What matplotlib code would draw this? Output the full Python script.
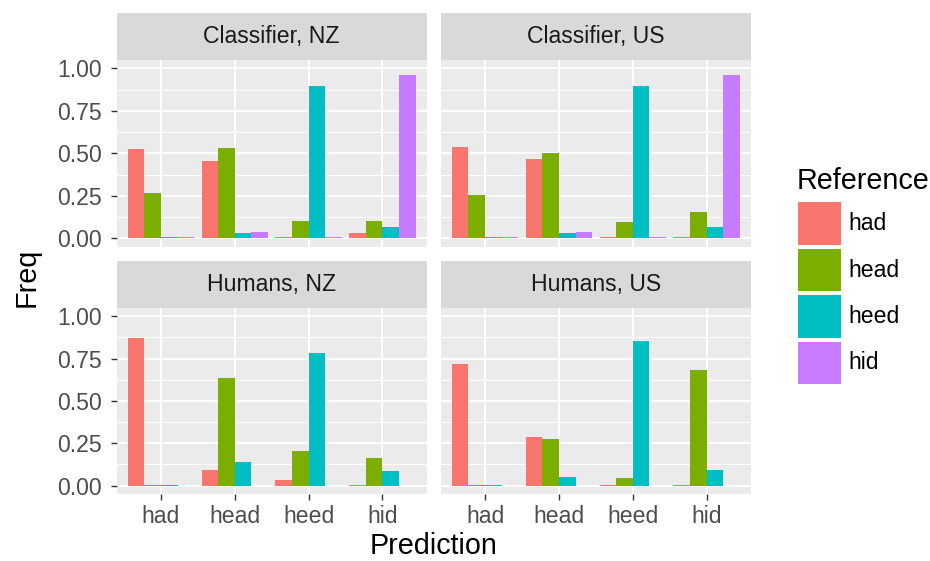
import numpy as np
import matplotlib
matplotlib.use("Agg")
import matplotlib.pyplot as plt
from matplotlib.patches import Rectangle

plt.rcParams['font.family'] = ['Liberation Sans', 'DejaVu Sans']

# Predicted vowel categories (x axis) and reference vowels (fill)
predictions = ["had", "head", "heed", "hid"]
references = ["had", "head", "heed", "hid"]
ref_colors = ["#F8766D", "#7CAE00", "#00BFC4", "#C77CFF"]

# Frequencies: keys = reference vowel, list entries = predicted vowel
classifier_nz = {
    "had":  [0.523, 0.453, 0.005, 0.028],
    "head": [0.264, 0.529, 0.104, 0.104],
    "heed": [0.005, 0.033, 0.895, 0.069],
    "hid":  [0.005, 0.039, 0.005, 0.960],
}
classifier_us = {
    "had":  [0.535, 0.464, 0.005, 0.005],
    "head": [0.252, 0.500, 0.098, 0.152],
    "heed": [0.005, 0.033, 0.895, 0.069],
    "hid":  [0.005, 0.039, 0.005, 0.960],
}
humans_nz = {
    "had":  [0.874, 0.094, 0.035, 0.005],
    "head": [0.005, 0.632, 0.201, 0.165],
    "heed": [0.005, 0.136, 0.780, 0.083],
    "hid":  [np.nan, np.nan, np.nan, np.nan],
}
humans_us = {
    "had":  [0.715, 0.289, 0.005, 0.005],
    "head": [0.005, 0.272, 0.047, 0.685],
    "heed": [0.005, 0.053, 0.856, 0.094],
    "hid":  [np.nan, np.nan, np.nan, np.nan],
}

panels = [
    ("Classifier, NZ", classifier_nz),
    ("Classifier, US", classifier_us),
    ("Humans, NZ", humans_nz),
    ("Humans, US", humans_us),
]

W, H = 930, 561
fig = plt.figure(figsize=(W / 100, H / 100), dpi=100)
fig.patch.set_facecolor("white")


def px_axes(x0, y0, x1, y1):
    return fig.add_axes([x0 / W, 1 - y1 / H, (x1 - x0) / W, (y1 - y0) / H])


col_x = [(116.7, 426.7), (440.7, 751.0)]
row_y = [((13.3, 60.0), (60.0, 246.7)), ((261.0, 307.7), (307.7, 494.0))]

tick_size = 16.6
title_size = 20.7
bar_w = 0.9 / len(references)
x = np.arange(1, len(predictions) + 1)

for idx, (label, data) in enumerate(panels):
    r, c = divmod(idx, 2)
    (sx0, sx1) = col_x[c]
    (sy, py) = row_y[r]

    # facet strip
    sax = px_axes(sx0, sy[0], sx1, sy[1])
    sax.set_facecolor("#D9D9D9")
    sax.set_xticks([]); sax.set_yticks([])
    for s in sax.spines.values():
        s.set_visible(False)
    sax.text(0.5, 0.5, label, ha="center", va="center", fontsize=tick_size,
             color="#1A1A1A", transform=sax.transAxes)

    ax = px_axes(sx0, py[0], sx1, py[1])
    ax.set_facecolor("#EBEBEB")
    for s in ax.spines.values():
        s.set_visible(False)
    ax.set_xlim(0.4, 4.6)
    ax.set_ylim(-0.05, 1.05)
    ax.set_yticks([0, 0.25, 0.5, 0.75, 1.0])
    ax.set_yticks([0.125, 0.375, 0.625, 0.875], minor=True)
    ax.set_xticks(x)
    ax.grid(which="major", axis="both", color="white", linewidth=1.45)
    ax.grid(which="minor", axis="y", color="white", linewidth=0.75)
    ax.tick_params(which="minor", length=0)
    ax.set_axisbelow(True)

    for j, ref in enumerate(references):
        vals = np.array(data[ref], dtype=float)
        if np.all(np.isnan(vals)):
            continue
        ax.bar(x + (j - 1.5) * bar_w, vals, width=bar_w, color=ref_colors[j],
               linewidth=0, zorder=3)

    ax.tick_params(axis="both", which="major", length=4.3, width=1.0,
                   color="#333333", labelcolor="#4D4D4D", labelsize=tick_size)
    ax.tick_params(axis="y", pad=6.5)
    ax.tick_params(axis="x", pad=3.5)
    if c == 0:
        ax.set_yticklabels(["0.00", "0.25", "0.50", "0.75", "1.00"])
    else:
        ax.tick_params(axis="y", left=False, labelleft=False)
    if r == 1:
        ax.set_xticklabels(predictions)
    else:
        ax.tick_params(axis="x", bottom=False, labelbottom=False)

# axis titles
fig.text(434 / W, 1 - 554.5 / H, "Prediction", ha="center", va="baseline",
         fontsize=title_size, color="black")
fig.text(27 / W, 1 - 277 / H, "Freq", ha="center", va="center", rotation=90,
         fontsize=title_size, color="black")

# legend
fig.text(797 / W, 1 - 189.3 / H, "Reference", ha="left", va="baseline",
         fontsize=title_size, color="black")
key_top = 202.3
key_h = 42.7
key_step = 46.4
for j, (ref, col) in enumerate(zip(references, ref_colors)):
    y0 = key_top + j * key_step
    fig.patches.append(Rectangle((797.7 / W, 1 - (y0 + key_h) / H), 43.3 / W, key_h / H,
                                 transform=fig.transFigure, facecolor=col,
                                 edgecolor="none"))
    fig.text(848.3 / W, 1 - (y0 + key_h / 2) / H, ref, ha="left", va="center",
             fontsize=tick_size, color="black")

fig.savefig("out.png", dpi=100)
